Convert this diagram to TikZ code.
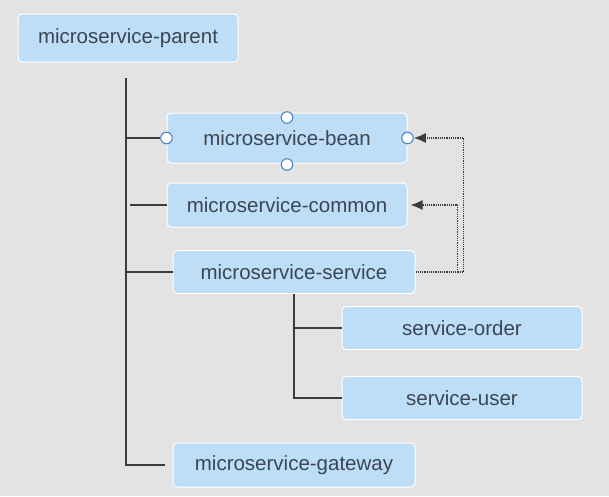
\documentclass[tikz,border=0pt]{standalone}
\usepackage{fontspec}
\setmainfont{Liberation Sans}
\usetikzlibrary{arrows.meta}
\definecolor{bg}{HTML}{E3E3E3}
\definecolor{boxfill}{HTML}{BEDEF8}
\definecolor{txt}{HTML}{3A4652}
\definecolor{ln}{HTML}{3C3C3C}
\definecolor{hnd}{HTML}{4A86C8}
\begin{document}
\begin{tikzpicture}[x=1pt,y=-1pt,
 box/.style={draw=white, line width=1pt, fill=boxfill, rounded corners=4pt, text=txt, font=\fontsize{20.5}{24}\selectfont, inner sep=0pt},
 conn/.style={draw=ln, line width=1.4pt},
 dep/.style={draw=ln, line width=1.2pt, densely dotted, -{Latex[length=12pt,width=10pt]}},
 handle/.style={circle, draw=hnd, fill=white, line width=1.1pt, minimum size=11.5pt, inner sep=0pt}]
\fill[bg] (0,0) rectangle (609,496);
\useasboundingbox (0,0) rectangle (609,496);

\node[box, minimum width=220pt, minimum height=48pt] (parent) at (128,38) {microservice-parent};
\node[box, minimum width=240pt, minimum height=50pt] (bean) at (287,138) {microservice-bean};
\node[box, minimum width=240pt, minimum height=44pt] (common) at (287,205) {microservice-common};
\node[box, minimum width=242pt, minimum height=43pt] (service) at (294,272) {microservice-service};
\node[box, minimum width=240pt, minimum height=43pt] (order) at (462,328) {service-order};
\node[box, minimum width=240pt, minimum height=43pt] (user) at (462,398) {service-user};
\node[box, minimum width=242pt, minimum height=44pt] (gateway) at (294,465) {microservice-gateway};

\node[handle] (hL) at (bean.west) {};
\node[handle] (hR) at (bean.east) {};
\node[handle] (hT) at ([yshift=-5pt]bean.north) {};
\node[handle] (hB) at ([yshift=-1pt]bean.south) {};

\coordinate (ttop) at (126,78);

\draw[conn] (ttop) |- ([xshift=-8pt]gateway.west);
\draw[conn] (ttop |- bean) -- (hL);
\draw[conn] ([xshift=4pt]ttop |- common) -- (common.west);
\draw[conn] (ttop |- service) -- (service.west);

\draw[conn] (service.south) |- (user.west);
\draw[conn] (service.south |- order) -- (order.west);

\draw[dep] (service.east) -- ++(48,0) |- (hR.east);
\draw[dep] (service.east) -- ++(42,0) |- ([xshift=3pt]common.east);
\end{tikzpicture}
\end{document}
